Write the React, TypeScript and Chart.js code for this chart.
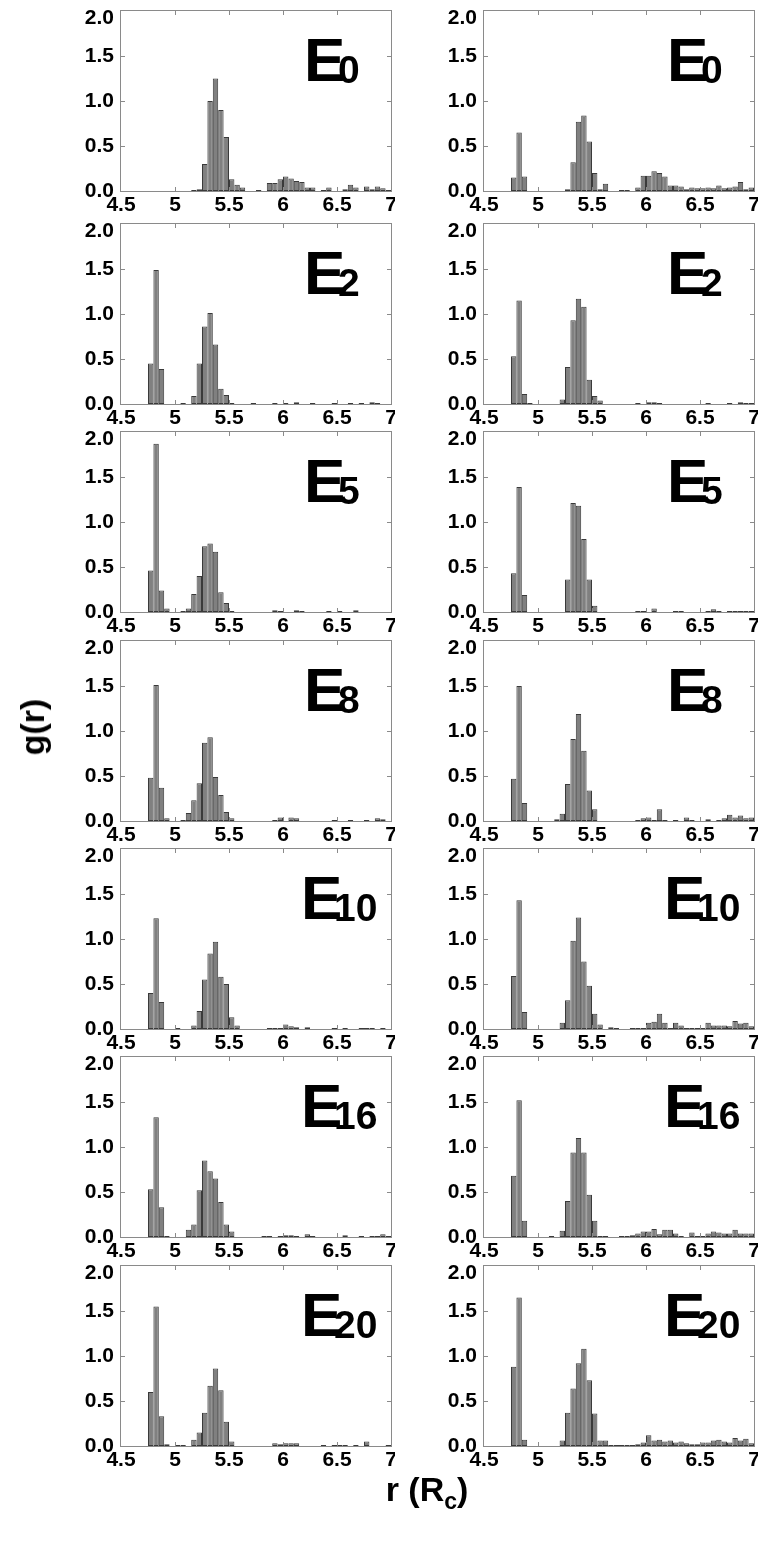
import React, { useEffect, useRef } from "react";
import { Chart, registerables } from "chart.js";

Chart.register(...registerables);

const FONT = '"Liberation Sans", Arial, Helvetica, sans-serif';

// histogram bins: 50 bins of width 0.05 from 4.5 to 7.0
const BIN_START = 4.5;
const BIN_WIDTH = 0.05;
const BIN_COUNT = 50;
const binCenters = Array.from({ length: BIN_COUNT }, (_, i) =>
  Number((BIN_START + BIN_WIDTH * (i + 0.5)).toFixed(3))
);

const xTicks = [4.5, 5, 5.5, 6, 6.5, 7];
const yTicks = [0, 0.5, 1, 1.5, 2];
const panelSubscripts = ["0", "2", "5", "8", "10", "16", "20"];

// left column
const gLeftE0 = [0,0,0,0,0, 0,0,0,0,0, 0,0,0,0.01,0.02, 0.30,1.00,1.25,0.90,0.60, 0.13,0.07,0.04,0,0, 0.01,0,0.09,0.09,0.13, 0.16,0.14,0.11,0.10,0.04, 0.04,0,0.01,0.04,0, 0,0.02,0.07,0.04,0, 0.05,0.02,0.05,0.03,0.01];
const gLeftE2 = [0,0,0,0,0, 0.45,1.49,0.39,0,0, 0,0.01,0,0.09,0.45, 0.86,1.01,0.66,0.17,0.10, 0.01,0,0,0,0.01, 0,0,0,0.01,0, 0.01,0,0.02,0,0, 0.01,0,0,0,0.01, 0,0,0.01,0,0.01, 0,0.02,0.01,0,0];
const gLeftE5 = [0,0,0,0,0, 0.46,1.87,0.24,0.04,0, 0,0.01,0.04,0.20,0.40, 0.73,0.76,0.67,0.22,0.10, 0.01,0,0,0,0, 0,0,0,0.02,0.01, 0,0,0.02,0.01,0, 0,0,0,0.01,0, 0.01,0,0,0.02,0, 0,0,0,0,0];
const gLeftE8 = [0,0,0,0,0, 0.48,1.51,0.37,0.03,0, 0,0.01,0.09,0.23,0.42, 0.87,0.93,0.49,0.29,0.10, 0.03,0,0,0,0, 0,0,0,0.01,0.04, 0,0.04,0.03,0,0, 0,0,0,0,0.01, 0,0,0.01,0,0, 0.01,0,0.03,0.02,0];
const gLeftE10 = [0,0,0,0,0, 0.40,1.23,0.30,0,0, 0.01,0,0,0.04,0.20, 0.55,0.84,0.97,0.58,0.50, 0.13,0.04,0,0,0, 0,0,0.01,0.01,0.01, 0.05,0.03,0.02,0,0.02, 0,0,0,0,0.01, 0,0.01,0,0,0.01, 0.01,0.01,0,0.01,0];
const gLeftE16 = [0,0,0,0,0, 0.53,1.33,0.33,0.01,0, 0,0,0.08,0.14,0.52, 0.85,0.73,0.65,0.39,0.14, 0.06,0,0,0,0, 0,0.01,0.01,0,0.01, 0.02,0.02,0.01,0,0.03, 0.01,0,0,0,0, 0,0.02,0,0,0.01, 0,0.01,0.01,0.03,0.01];
const gLeftE20 = [0,0,0,0,0, 0.60,1.55,0.33,0.02,0, 0.01,0.01,0,0.07,0.15, 0.37,0.67,0.86,0.62,0.27, 0.05,0,0,0,0, 0,0,0,0.03,0.02, 0.03,0.03,0.03,0,0, 0,0,0.01,0,0.01, 0.01,0.01,0,0.01,0, 0.05,0,0,0,0.01];

// right column
const gRightE0 = [0,0,0,0,0, 0.15,0.65,0.16,0,0, 0,0,0,0,0, 0.02,0.32,0.77,0.84,0.55, 0.20,0.02,0.08,0,0, 0.01,0.01,0,0.04,0.17, 0.17,0.22,0.20,0.16,0.06, 0.06,0.05,0.02,0.04,0.03, 0.03,0.04,0.03,0.06,0.03, 0.04,0.05,0.10,0.02,0.04];
const gRightE2 = [0,0,0,0,0, 0.53,1.15,0.11,0.01,0, 0,0,0,0,0.05, 0.41,0.93,1.17,1.08,0.27, 0.09,0.04,0,0,0, 0,0,0,0.01,0, 0.02,0.02,0.01,0,0, 0,0,0,0,0, 0,0.01,0,0,0, 0.01,0,0.02,0.01,0.01];
const gRightE5 = [0,0,0,0,0, 0.43,1.39,0.19,0,0, 0,0,0,0,0, 0.36,1.21,1.18,0.81,0.36, 0.07,0,0,0,0, 0,0,0,0.01,0.01, 0,0.04,0,0,0, 0.01,0.01,0,0,0, 0,0.01,0.03,0.01,0, 0.01,0.01,0.01,0.01,0.01];
const gRightE8 = [0,0,0,0,0, 0.47,1.50,0.20,0,0, 0,0,0,0.02,0.08, 0.41,0.91,1.19,0.78,0.34, 0.13,0,0,0,0, 0,0,0,0.01,0.03, 0.04,0.01,0.13,0.01,0, 0.01,0,0.04,0.01,0, 0,0.02,0,0.01,0.03, 0.07,0.04,0.06,0.03,0.04];
const gRightE10 = [0,0,0,0,0, 0.59,1.43,0.19,0,0, 0,0,0,0,0.07, 0.32,0.98,1.24,0.75,0.48, 0.17,0.05,0,0.02,0.01, 0,0,0.01,0.01,0.01, 0.07,0.08,0.17,0.07,0.01, 0.07,0.04,0.01,0.01,0.01, 0.01,0.07,0.04,0.04,0.04, 0.03,0.09,0.06,0.07,0.03];
const gRightE16 = [0,0,0,0,0, 0.68,1.52,0.18,0,0, 0,0,0.01,0,0.07, 0.40,0.94,1.10,0.94,0.47, 0.18,0.01,0.01,0,0, 0.01,0.01,0.02,0.04,0.06, 0.06,0.09,0.03,0.08,0.08, 0.04,0.01,0,0.05,0.01, 0.01,0.04,0.06,0.05,0.04, 0.04,0.08,0.04,0.04,0.04];
const gRightE20 = [0,0,0,0,0, 0.88,1.65,0.07,0,0, 0,0,0,0,0.06, 0.37,0.64,0.92,1.08,0.73, 0.36,0.06,0.06,0.01,0.01, 0.01,0.01,0.01,0.02,0.04, 0.12,0.06,0.07,0.05,0.06, 0.04,0.05,0.03,0.02,0.02, 0.04,0.04,0.06,0.07,0.05, 0.04,0.09,0.06,0.08,0.03];

const leftSeries = [gLeftE0, gLeftE2, gLeftE5, gLeftE8, gLeftE10, gLeftE16, gLeftE20];
const rightSeries = [gRightE0, gRightE2, gRightE5, gRightE8, gRightE10, gRightE16, gRightE20];

// layout (pixels)
const COL_PLOT_LEFT = [121, 484];
const ROW_PLOT_TOP = [11, 224, 432, 641, 849, 1057, 1266];
const PLOT_W = 270;
const PLOT_H = 180;
const Y_AXIS_W = 80;
const PAD_TOP = 16;
const PAD_RIGHT = 4;
const X_AXIS_H = 34;
const CW = Y_AXIS_W + PLOT_W + PAD_RIGHT;
const CH = PAD_TOP + PLOT_H + X_AXIS_H;

const FRAME = "#8a8a8a";

function Panel({ left, top, values, sub }: { left: number; top: number; values: number[]; sub: string }) {
  const ref = useRef<HTMLCanvasElement | null>(null);
  useEffect(() => {
    if (!ref.current) return;
    const framePlugin = {
      id: "frameTicks",
      afterDraw(chart: any) {
        const { ctx, chartArea } = chart;
        const { left: l, top: t, right: r, bottom: b } = chartArea;
        const xs = chart.scales.x;
        const ys = chart.scales.y;
        ctx.save();
        ctx.strokeStyle = FRAME;
        ctx.lineWidth = 1;
        ctx.strokeRect(l - 0.5, t - 0.5, r - l + 1, b - t + 1);
        ctx.beginPath();
        xTicks.slice(1, -1).forEach((v) => {
          const px = Math.round(xs.getPixelForValue(v)) + 0.5;
          ctx.moveTo(px, b);
          ctx.lineTo(px, b - 4);
          ctx.moveTo(px, t);
          ctx.lineTo(px, t + 4);
        });
        yTicks.slice(1, -1).forEach((v) => {
          const py = Math.round(ys.getPixelForValue(v)) + 0.5;
          ctx.moveTo(l, py);
          ctx.lineTo(l + 4, py);
          ctx.moveTo(r, py);
          ctx.lineTo(r - 4, py);
        });
        ctx.stroke();
        // panel label E_n
        const two = sub.length > 1;
        ctx.fillStyle = "#000";
        ctx.textAlign = "left";
        ctx.textBaseline = "alphabetic";
        ctx.font = `bold 62px ${FONT}`;
        ctx.fillText("E", l + (two ? 180 : 183), t + 70);
        ctx.font = `bold 39px ${FONT}`;
        ctx.fillText(sub, l + (two ? 213 : 217), t + 72);
        ctx.restore();
      },
    };
    const chart = new Chart(ref.current, {
      type: "bar",
      data: {
        datasets: [
          {
            data: values.map((v, i) => ({ x: binCenters[i], y: v })),
            backgroundColor: "#808080",
            borderColor: "#3a3a3a",
            borderWidth: 1,
            borderSkipped: false,
            barPercentage: 1,
            categoryPercentage: 1,
            inflateAmount: 0,
          } as any,
        ],
      },
      options: {
        animation: false,
        responsive: false,
        events: [],
        layout: { padding: { left: 0, right: PAD_RIGHT, top: PAD_TOP, bottom: 0 } },
        plugins: { legend: { display: false }, tooltip: { enabled: false }, title: { display: false } },
        scales: {
          x: {
            type: "linear",
            min: xTicks[0],
            max: xTicks[xTicks.length - 1],
            offset: false,
            grid: { display: false, drawTicks: false, offset: false },
            border: { display: false },
            afterBuildTicks: (s: any) => {
              s.ticks = xTicks.map((v) => ({ value: v }));
            },
            ticks: {
              autoSkip: false,
              maxRotation: 0,
              padding: 2,
              color: "#000",
              font: { family: FONT, size: 21, weight: "bold" },
              callback: (v: any) => String(v),
            },
            afterFit: (s: any) => {
              s.height = X_AXIS_H;
              s.paddingLeft = 0;
              s.paddingRight = 0;
            },
          },
          y: {
            min: 0,
            max: 2,
            grid: { display: false, drawTicks: false },
            border: { display: false },
            afterBuildTicks: (s: any) => {
              s.ticks = yTicks.map((v) => ({ value: v }));
            },
            ticks: {
              padding: 7,
              color: "#000",
              font: (c: any) => ({
                family: FONT,
                size: 21,
                weight: "bold",
                lineHeight: c.tick && c.tick.value === 2 ? 0.667 : 1.2,
              }),
              callback: (v: any) => (Number(v) === 2 ? ["", "2.0"] : Number(v).toFixed(1)),
            },
            afterFit: (s: any) => {
              s.width = Y_AXIS_W;
              s.paddingTop = 0;
              s.paddingBottom = 0;
            },
          },
        },
      } as any,
      plugins: [framePlugin],
    });
    return () => chart.destroy();
  }, []);
  return (
    <canvas
      ref={ref}
      width={CW}
      height={CH}
      style={{ position: "absolute", left, top, width: CW, height: CH }}
    />
  );
}

export default function App() {
  const panels: any[] = [];
  ROW_PLOT_TOP.forEach((rowTop, r) => {
    [leftSeries, rightSeries].forEach((series, c) => {
      panels.push(
        <Panel
          key={`${r}-${c}`}
          left={COL_PLOT_LEFT[c] - Y_AXIS_W}
          top={rowTop - PAD_TOP}
          values={series[r]}
          sub={panelSubscripts[r]}
        />
      );
    });
  });
  return (
    <div
      style={{
        position: "absolute",
        left: 0,
        top: 0,
        width: 759,
        height: 1541,
        background: "#fff",
        overflow: "hidden",
        fontFamily: FONT,
      }}
    >
      {panels}
      <div
        style={{
          position: "absolute",
          left: 32,
          top: 727,
          transform: "translate(-50%, -50%) rotate(-90deg)",
          fontSize: 34,
          fontWeight: "bold",
          whiteSpace: "nowrap",
          lineHeight: 1,
          color: "#000",
        }}
      >
        g(r)
      </div>
      <div
        style={{
          position: "absolute",
          left: 427,
          top: 1492,
          transform: "translate(-50%, -50%)",
          fontSize: 34,
          fontWeight: "bold",
          whiteSpace: "nowrap",
          lineHeight: 1,
          color: "#000",
        }}
      >
        r (R<span style={{ fontSize: 23, verticalAlign: -8 }}>c</span>)
      </div>
    </div>
  );
}
